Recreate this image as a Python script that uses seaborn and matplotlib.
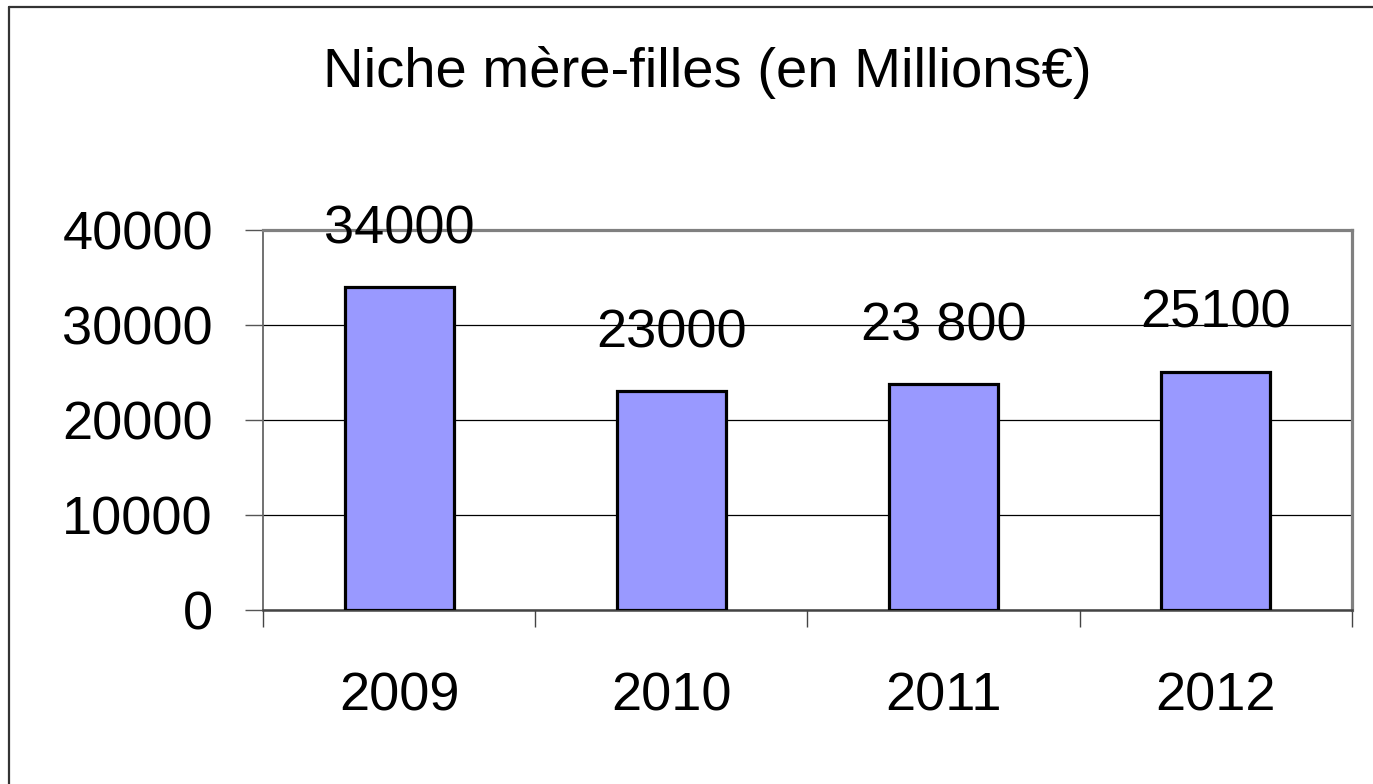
import matplotlib
matplotlib.use('Agg')
import matplotlib.pyplot as plt
import seaborn as sns
import pandas as pd
from matplotlib.lines import Line2D
from matplotlib.ticker import FixedLocator

years = ['2009', '2010', '2011', '2012']
values = [34000, 23000, 23800, 25100]
labels = ['34000', '23000', '23 800', '25100']
yticks = [0, 10000, 20000, 30000, 40000]

df = pd.DataFrame({'annee': years, 'montant': values})

sns.set_style('white')
plt.rcParams['font.family'] = ['Liberation Sans', 'DejaVu Sans']
plt.rcParams['text.color'] = 'black'
plt.rcParams['xtick.color'] = 'black'
plt.rcParams['ytick.color'] = 'black'

fig = plt.figure(figsize=(13.73, 7.84), dpi=100)
ax = fig.add_axes([263/1373, 1-610/784, (1352-263)/1373, (610-230)/784])

sns.barplot(data=df, x='annee', y='montant', color='#9999FF', width=0.4,
            edgecolor='black', linewidth=2.3, saturation=1, ax=ax, zorder=3)

ax.set_xlim(-0.5, 3.5)
ax.set_ylim(0, 40000)
ax.set_yticks(yticks)
ax.set_yticklabels([str(t) for t in yticks])
ax.grid(axis='y', color='black', linewidth=0.9, zorder=1)
ax.set_axisbelow(True)
ax.set_xlabel('')
ax.set_ylabel('')

ax.tick_params(axis='y', which='major', length=13, width=1, color='#555555',
               labelcolor='black', direction='out', pad=23, labelsize=39, left=True)
ax.tick_params(axis='x', which='major', length=0, pad=44, labelsize=39,
               labelcolor='black')
ax.xaxis.set_minor_locator(FixedLocator([-0.5, 0.5, 1.5, 2.5, 3.5]))
ax.tick_params(axis='x', which='minor', length=12.5, width=1, color='#444444',
               direction='out', bottom=True)

for s in ['top', 'right']:
    ax.spines[s].set_color('#808080')
    ax.spines[s].set_linewidth(2.3)
ax.spines['left'].set_color('#666666')
ax.spines['left'].set_linewidth(1.3)
ax.spines['bottom'].set_color('#444444')
ax.spines['bottom'].set_linewidth(1.8)

for i, (v, lab) in enumerate(zip(values, labels)):
    ax.annotate(lab, (i, v), xytext=(0, 31.5), textcoords='offset points',
                ha='center', va='baseline', fontsize=39, color='black', zorder=4)

fig.text(707/1373, 1-87/784, 'Niche mère-filles (en Millions€)',
         ha='center', va='baseline', fontsize=40.5, color='black')

# cadre extérieur
fig.add_artist(Line2D([9/1373, 9/1373], [0, 1-7/784], color='#333333', linewidth=1.6))
fig.add_artist(Line2D([9/1373, 1], [1-7/784, 1-7/784], color='#333333', linewidth=1.6))

fig.savefig('out.png', dpi=100)
